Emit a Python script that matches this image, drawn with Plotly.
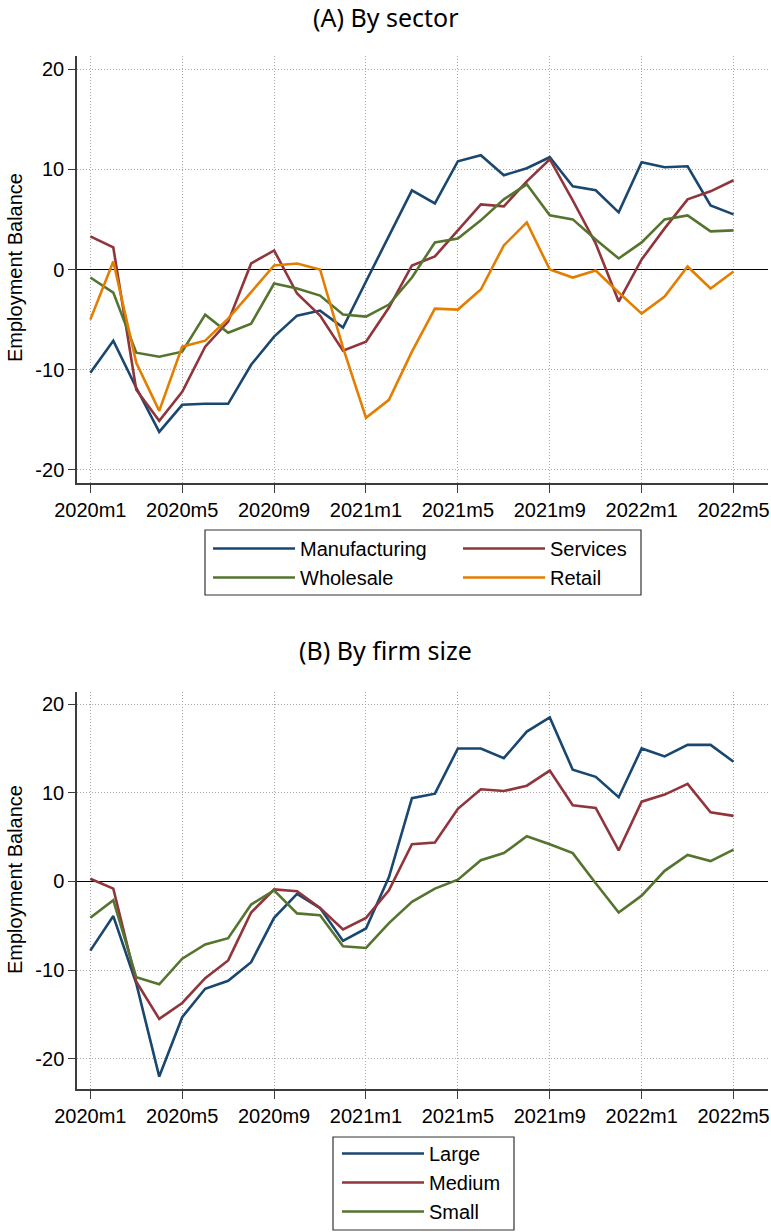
import plotly.graph_objects as go

months = [f"{y}m{m}" for y in (2020, 2021, 2022) for m in range(1, 13)][:29]
tick_labels = ["2020m1", "2020m5", "2020m9", "2021m1", "2021m5", "2021m9", "2022m1", "2022m5"]
y_ticks = [-20, -10, 0, 10, 20]
y_tick_labels = ["-20", "-10", "0", "10", "20"]

manufacturing = [-10.3, -7.1, -11.8, -16.2, -13.5, -13.4, -13.4, -9.5, -6.7, -4.6, -4.1, -5.8, -1.2,
                 3.3, 7.9, 6.6, 10.8, 11.4, 9.4, 10.1, 11.2, 8.3, 7.9, 5.7, 10.7, 10.2, 10.3, 6.4, 5.5]
services = [3.3, 2.2, -12.0, -15.1, -12.2, -7.7, -5.2, 0.6, 1.9, -2.4, -4.6, -8.1, -7.2,
            -3.8, 0.4, 1.3, 3.9, 6.5, 6.3, 8.8, 11.0, 6.9, 2.6, -3.2, 1.0, 4.1, 7.0, 7.8, 8.9]
wholesale = [-0.8, -2.3, -8.3, -8.7, -8.2, -4.5, -6.3, -5.4, -1.4, -1.9, -2.6, -4.5, -4.7,
             -3.5, -0.8, 2.7, 3.1, 4.9, 7.0, 8.5, 5.4, 5.0, 3.0, 1.1, 2.7, 5.0, 5.4, 3.8, 3.9]
retail = [-5.0, 0.8, -9.3, -14.1, -7.7, -7.1, -4.9, -2.2, 0.4, 0.6, 0.0, -7.8, -14.8,
          -13.0, -8.2, -3.9, -4.0, -2.0, 2.4, 4.7, 0.0, -0.8, -0.1, -2.3, -4.4, -2.7, 0.3, -1.9, -0.2]

large = [-7.8, -3.9, -11.5, -22.0, -15.3, -12.1, -11.2, -9.1, -4.1, -1.4, -3.0, -6.7, -5.3,
         0.5, 9.4, 9.9, 15.0, 15.0, 13.9, 16.9, 18.5, 12.6, 11.8, 9.5, 15.0, 14.1, 15.4, 15.4, 13.5]
medium = [0.3, -0.8, -11.3, -15.5, -13.7, -10.9, -8.9, -3.5, -0.9, -1.1, -3.0, -5.4, -4.1,
          -1.0, 4.2, 4.4, 8.2, 10.4, 10.2, 10.8, 12.5, 8.6, 8.3, 3.5, 9.0, 9.8, 11.0, 7.8, 7.4]
small = [-4.1, -2.1, -10.8, -11.6, -8.7, -7.1, -6.4, -2.6, -1.0, -3.6, -3.8, -7.3, -7.5,
         -4.7, -2.3, -0.8, 0.2, 2.4, 3.2, 5.1, 4.2, 3.2, -0.2, -3.5, -1.6, 1.2, 3.0, 2.3, 3.6]

NAVY, MAROON, GREEN, ORANGE = "#1a476f", "#90353b", "#55752f", "#e37e00"
W, H = 771, 1232
SANS = "Liberation Sans, Arial, sans-serif"

fig = go.Figure()

# (name, values, colour, legend id)
panel_a = [("Manufacturing", manufacturing, NAVY, "legend"), ("Services", services, MAROON, "legend3"),
           ("Wholesale", wholesale, GREEN, "legend"), ("Retail", retail, ORANGE, "legend3")]
panel_b = [("Large", large, NAVY), ("Medium", medium, MAROON), ("Small", small, GREEN)]

for name, vals, col, lg in panel_a:
    fig.add_trace(go.Scatter(x=months, y=vals, name=name, mode="lines",
                             line=dict(color=col, width=2.6), xaxis="x", yaxis="y",
                             legend=lg))
for name, vals, col in panel_b:
    fig.add_trace(go.Scatter(x=months, y=vals, name=name, mode="lines",
                             line=dict(color=col, width=2.6), xaxis="x2", yaxis="y2",
                             legend="legend2"))

tickfont = dict(family=SANS, size=20, color="#000")
GRID = "#a8a8a8"

xcommon = dict(type="category", categoryorder="array", categoryarray=months,
               tickmode="array", tickvals=tick_labels, ticktext=tick_labels,
               range=[-0.58, 29.5], showline=True, linecolor="#3c3c3c", linewidth=1.5,
               ticks="outside", ticklen=8, tickcolor="#3c3c3c", tickwidth=1.2,
               showgrid=True, gridcolor=GRID, griddash="1px,2px", gridwidth=1,
               tickfont=tickfont, zeroline=False, fixedrange=True, automargin=False)
ycommon = dict(tickmode="array", tickvals=y_ticks, ticktext=y_tick_labels, showline=True,
               linecolor="#3c3c3c", linewidth=1.5, ticks="outside", ticklen=7,
               tickcolor="#3c3c3c", tickwidth=1.2, showgrid=True, gridcolor=GRID,
               griddash="1px,2px", gridwidth=1, zeroline=True, zerolinecolor="#000",
               zerolinewidth=1.3, tickfont=tickfont, fixedrange=True, automargin=False,
               ticklabelstandoff=0)

legfont = dict(family=SANS, size=20, color="#000")
leg_common = dict(orientation="v", xanchor="left", yanchor="top", borderwidth=0,
                  bgcolor="rgba(0,0,0,0)", font=legfont, itemwidth=82)

x0, x1 = 77 / W, 768 / W
fig.update_layout(
    width=W, height=H, margin=dict(l=0, r=0, t=0, b=0, autoexpand=False),
    paper_bgcolor="white", plot_bgcolor="white",
    xaxis=dict(xcommon, domain=[x0, x1], anchor="y"),
    yaxis=dict(ycommon, domain=[1 - 483 / H, 1 - 56 / H], range=[-21.3, 21.3], anchor="x"),
    xaxis2=dict(xcommon, domain=[x0, x1], anchor="y2"),
    yaxis2=dict(ycommon, domain=[1 - 1089 / H, 1 - 691.7 / H], range=[-23.4, 21.4], anchor="x2"),
    legend=dict(leg_common, x=208 / W, y=1 - 529 / H),
    legend3=dict(leg_common, x=458 / W, y=1 - 529 / H),
    legend2=dict(leg_common, x=337 / W, y=1 - 1134 / H),
    showlegend=True,
)

# legend frames
for (lx0, ly0, lx1, ly1) in [(205, 530, 641, 595), (333, 1137, 514, 1230)]:
    fig.add_shape(type="rect", xref="paper", yref="paper",
                  x0=lx0 / W, x1=lx1 / W, y0=1 - ly1 / H, y1=1 - ly0 / H,
                  line=dict(color="#333", width=1.2), fillcolor="rgba(0,0,0,0)")

annots = [
    dict(text="(A) By sector", x=0.5, y=1 - 17 / H),
    dict(text="(B) By firm size", x=0.5, y=1 - 650 / H),
]
for a in annots:
    fig.add_annotation(xref="paper", yref="paper", xanchor="center", yanchor="middle",
                       showarrow=False, font=dict(family="Noto Sans, Open Sans, sans-serif",
                                                  size=25, color="#000"), **a)
for yc in (268, 880):
    fig.add_annotation(text="Employment Balance", xref="paper", yref="paper",
                       x=15 / W, y=1 - yc / H, textangle=-90, showarrow=False,
                       xanchor="center", yanchor="middle",
                       font=dict(family=SANS, size=20, color="#000"))

fig.write_html("out.html")
